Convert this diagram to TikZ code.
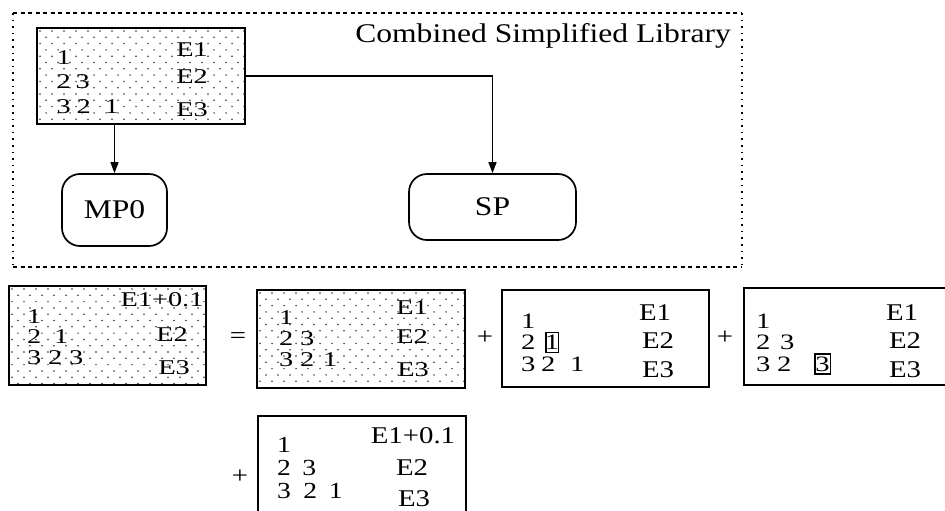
\documentclass[tikz,border=0pt]{standalone}
\usepackage{fontspec}
\setmainfont{Liberation Serif}
\newfontfamily\labelface[FakeStretch=1.17]{Liberation Serif}
\newfontfamily\shadeface[FakeStretch=1.35]{Liberation Serif}
\newfontfamily\plainface[FakeStretch=1.2]{Liberation Serif}
\newfontfamily\tightface[FakeStretch=1.3]{Liberation Serif}
\usetikzlibrary{arrows.meta}
\definecolor{dotgray}{gray}{0.2}

% horizontal gap between digits, and a digit in a tight frame
\newcommand\gp[1]{\hspace*{#1pt}}
\newcommand\framed[2]{{\setlength\fboxsep{2pt}\setlength\fboxrule{1.3pt}\fbox{\makebox[#1pt][c]{#2}}}}

\tikzset{
  lbl/.style={font=\labelface\fontsize{27}{27}\selectfont, inner sep=0pt},
  sd/.style={font=\shadeface\fontsize{21}{21}\selectfont, inner sep=0pt},
  pd/.style={font=\plainface\fontsize{24}{24}\selectfont, inner sep=0pt},
  scol/.style={font=\shadeface\fontsize{21}{#1}\selectfont, inner sep=0pt, align=left, anchor=north west},
  pcol/.style={font=\plainface\fontsize{23}{#1}\selectfont, inner sep=0pt, align=left, anchor=north west},
  tcol/.style={font=\tightface\fontsize{22}{#1}\selectfont, inner sep=0pt, align=left, anchor=north west},
  mbox/.style={draw, line width=2pt, inner sep=0pt},
  shaded/.style={path picture={
    \foreach \r in {0,...,17}{
      \foreach \c in {0,...,18}{
        \fill[dotgray] ([xshift={\c*12pt+mod(\r,2)*6pt+3pt}, yshift={-\r*6.3pt-3pt}]path picture bounding box.north west) circle (0.85pt);
      }}}},
  pill/.style={draw, line width=1.7pt, rounded corners=18pt, lbl},
  conn/.style={line width=1.4pt, -{Triangle[length=11pt,width=8pt]}},
  frameh/.style={line width=1.8pt, dash pattern=on 4pt off 3.5pt},
  framev/.style={line width=2pt, dash pattern=on 1.6pt off 5pt},
}

\begin{document}
\begin{tikzpicture}[x=1pt,y=-1pt]
\useasboundingbox (0,0) rectangle (945,511);
\clip (0,0) rectangle (945,511);

% library frame
\coordinate (fa) at (13,13);
\coordinate (fb) at (742,13);
\coordinate (fc) at (742,267);
\coordinate (fd) at (13,267);
\draw[frameh] (fa) -- (fb);
\draw[frameh] (fd) -- (fc);
\draw[framev] (fa) -- (fd);
\draw[framev] (fb) -- (fc);
\node[lbl, anchor=base east] (title) at (731,43) {Combined Simplified Library};

% combined library table
\node[mbox, shaded, minimum width=208pt, minimum height=96pt] (lib) at (141,76) {};
\node[scol=24.5] (lrows) at (56.5,50) {1\\2\gp{4.8}3\\3\gp{5.8}2\gp{13.8}1};
\node[sd] (le1) at (192,50) {E1};
\node[sd] (le2) at (192,77) {E2};
\node[sd] (le3) at (192,110) {E3};

% outputs
\node[pill, minimum width=105pt, minimum height=72pt] (mp0) at (114.5,210) {MP0};
\node[pill, minimum width=167pt, minimum height=66pt] (sp) at (492.5,207) {SP};
\draw[conn] (lib.south -| mp0.north) -- (mp0.north);
\draw[conn] (lib.east) -| (sp.north);

% table A
\node[mbox, shaded, minimum width=197pt, minimum height=99pt] (ta) at (107.5,335.5) {};
\node[scol=20.5] (arows) at (27,309) {1\\2\gp{12.8}1\\3\gp{6.8}2\gp{6.8}3};
\node[sd] (ae1) at (162,300) {E1+0.1};
\node[sd] (ae2) at (172,335) {E2};
\node[sd] (ae3) at (174,368) {E3};

\node[pd] (eq) at (238,338) {=};

% table B
\node[mbox, shaded, minimum width=208pt, minimum height=98pt] (tb) at (361,339) {};
\node[scol=21] (brows) at (279,310) {1\\2\gp{6.8}3\\3\gp{6.8}2\gp{8.8}1};
\node[sd] (be1) at (412,308) {E1};
\node[sd] (be2) at (412,337) {E2};
\node[sd] (be3) at (413,370) {E3};

\node[pd] (plus1) at (485,338) {+};

% table C
\node[mbox, minimum width=207pt, minimum height=97pt] (tc) at (605.5,338.5) {};
\node[tcol=21.5] (crows) at (520.85,313.5) {1\\2\gp{10}\framed{7}{1}\\3\gp{5.7}2\gp{14.7}1};
\node[pd] (ce1) at (655,313) {E1};
\node[pd] (ce2) at (658,341) {E2};
\node[pd] (ce3) at (658,370) {E3};

\node[pd] (plus2) at (725,338) {+};

% table D
\node[mbox, minimum width=216pt, minimum height=97pt] (td) at (852,336.5) {};
\node[tcol=21.5] (drows) at (755.85,313.5) {1\\2\gp{9.7}3\\3\gp{6.7}2\gp{23}\framed{10}{3}};
\node[pd] (de1) at (902,313) {E1};
\node[pd] (de2) at (905,341) {E2};
\node[pd] (de3) at (905,370) {E3};

\node[pd] (plus3) at (240,477) {+};

% table E
\node[mbox, minimum width=208pt, minimum height=114pt] (te) at (362,473) {};
\node[pcol=23] (erows) at (276.8,437) {1\\2\gp{11.6}3\\3\gp{12.6}2\gp{11.6}1};
\node[pd] (ee1) at (413,436) {E1+0.1};
\node[pd] (ee2) at (412,468) {E2};
\node[pd] (ee3) at (414,499) {E3};
\end{tikzpicture}
\end{document}
